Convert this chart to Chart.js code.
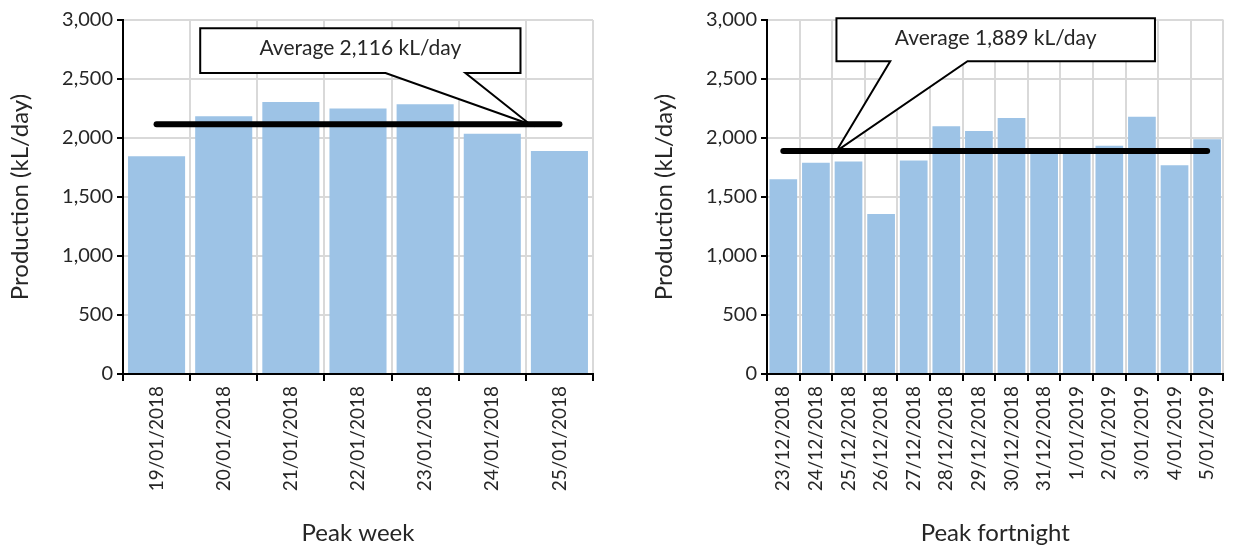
<!DOCTYPE html>
<html>
<head>
<meta charset="utf-8">
<script src="https://cdn.jsdelivr.net/npm/chart.js@4.4.0/dist/chart.umd.min.js"></script>
<style>
  html, body { margin: 0; padding: 0; background: #fff; }
  body { width: 1235px; height: 548px; position: relative; overflow: hidden; }
  .wrap { position: absolute; top: 0; height: 548px; }
  #w1 { left: 0; width: 610px; }
  #w2 { left: 644px; width: 591px; }
</style>
</head>
<body>
<div class="wrap" id="w1"><canvas id="c1"></canvas></div>
<div class="wrap" id="w2"><canvas id="c2"></canvas></div>
<script>
// ---- data ----
const weekLabels = ['19/01/2018','20/01/2018','21/01/2018','22/01/2018','23/01/2018','24/01/2018','25/01/2018'];
const weekValues = [1845, 2185, 2305, 2250, 2285, 2035, 1890];
const weekAverage = 2116;
const weekTitle = 'Peak week';
const weekCallout = 'Average 2,116 kL/day';

const fortLabels = ['23/12/2018','24/12/2018','25/12/2018','26/12/2018','27/12/2018','28/12/2018','29/12/2018','30/12/2018','31/12/2018','1/01/2019','2/01/2019','3/01/2019','4/01/2019','5/01/2019'];
const fortValues = [1650, 1790, 1800, 1355, 1810, 2100, 2060, 2170, 1900, 1895, 1935, 2180, 1770, 1990];
const fortAverage = 1889;
const fortTitle = 'Peak fortnight';
const fortCallout = 'Average 1,889 kL/day';

const yMin = 0, yMax = 3000, yStep = 500;
const yTitle = 'Production (kL/day)';

const FONT = 'Lato, "Open Sans", sans-serif';
const TXT = '#262626';

// callout plugin: box and pointer expressed in scale units (category index, value)
const calloutPlugin = {
  id: 'callout',
  afterDraw(chart, args, opts) {
    if (!opts || !opts.text) return;
    const xs = chart.scales.x, ys = chart.scales.y, ctx = chart.ctx;
    const x0 = xs.getPixelForValue(opts.box[0]), x1 = xs.getPixelForValue(opts.box[1]);
    const y0 = ys.getPixelForValue(opts.box[2]), y1 = ys.getPixelForValue(opts.box[3]);
    const b0 = xs.getPixelForValue(opts.base[0]), b1 = xs.getPixelForValue(opts.base[1]);
    const tx = xs.getPixelForValue(opts.tip[0]), ty = ys.getPixelForValue(opts.tip[1]);
    ctx.save();
    ctx.beginPath();
    ctx.moveTo(x0, y0);
    ctx.lineTo(x1, y0);
    ctx.lineTo(x1, y1);
    ctx.lineTo(b1, y1);
    ctx.lineTo(tx, ty);
    ctx.lineTo(b0, y1);
    ctx.lineTo(x0, y1);
    ctx.closePath();
    ctx.fillStyle = '#fff';
    ctx.fill();
    ctx.lineWidth = 2;
    ctx.strokeStyle = '#000';
    ctx.lineJoin = 'miter';
    ctx.stroke();
    ctx.fillStyle = TXT;
    ctx.font = '21px ' + FONT;
    ctx.textAlign = 'center';
    ctx.textBaseline = 'middle';
    ctx.fillText(opts.text, (x0 + x1) / 2, (y0 + y1) / 2 - 2);
    ctx.restore();
  }
};

function makeChart(id, labels, values, avg, xTitle, callout, padRight) {
  return new Chart(document.getElementById(id), {
    type: 'bar',
    data: {
      labels: labels,
      datasets: [
        {
          type: 'line',
          data: labels.map(() => avg),
          borderColor: '#000',
          borderWidth: 6,
          borderCapStyle: 'round',
          pointRadius: 0,
          fill: false,
          order: 0
        },
        {
          type: 'bar',
          data: values,
          backgroundColor: '#9DC3E6',
          borderWidth: 0,
          barPercentage: 0.85,
          categoryPercentage: 1,
          order: 1
        }
      ]
    },
    options: {
      responsive: true,
      maintainAspectRatio: false,
      animation: false,
      layout: { padding: { top: 20, right: padRight, left: 0, bottom: 0 } },
      plugins: {
        legend: { display: false },
        tooltip: { enabled: false },
        callout: callout
      },
      scales: {
        x: {
          grid: { color: '#d9d9d9', lineWidth: 2, tickColor: '#000', tickLength: 7, offset: true },
          border: { color: '#000', width: 2 },
          ticks: { color: TXT, font: { family: FONT, size: 19 }, minRotation: 90, maxRotation: 90, padding: 5, autoSkip: false },
          title: { display: true, text: xTitle, color: TXT, font: { family: FONT, size: 24 }, padding: { top: 0, bottom: 0 } },
          afterFit(s) { s.height = 174; }
        },
        y: {
          min: yMin, max: yMax,
          grid: { color: '#d9d9d9', lineWidth: 2, tickColor: '#000', tickLength: 6 },
          border: { color: '#000', width: 2 },
          ticks: { stepSize: yStep, color: TXT, font: { family: FONT, size: 20 }, padding: 4 },
          title: { display: true, text: yTitle, color: TXT, font: { family: FONT, size: 24 }, padding: { top: 6, bottom: 0 } },
          afterFit(s) { s.width = 123; }
        }
      }
    },
    plugins: [calloutPlugin]
  });
}

makeChart('c1', weekLabels, weekValues, weekAverage, weekTitle,
  { text: weekCallout, box: [0.65, 5.42, 2930, 2550], base: [3.41, 4.6], tip: [5.56, weekAverage] }, 17);
makeChart('c2', fortLabels, fortValues, fortAverage, fortTitle,
  { text: fortCallout, box: [1.63, 11.4, 3015, 2650], base: [3.28, 5.65], tip: [1.63, fortAverage] }, 2);
</script>
</body>
</html>
